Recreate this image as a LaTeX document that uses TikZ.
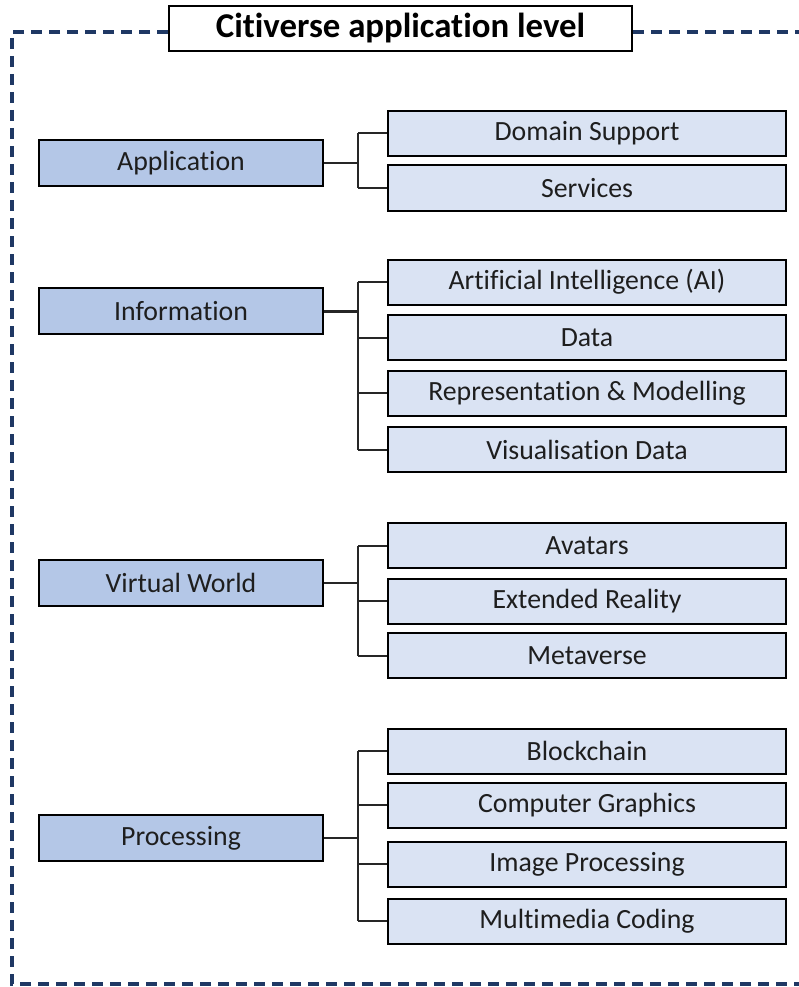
\documentclass[tikz,border=0pt]{standalone}
\usepackage{fontspec}
\setmainfont[Ligatures=NoCommon]{Carlito}
\usepackage{tikz}
\usetikzlibrary{calc}
\definecolor{framecol}{HTML}{1F3864}
\definecolor{leftfill}{HTML}{B4C7E7}
\definecolor{rightfill}{HTML}{DAE3F3}
\definecolor{txtcol}{HTML}{1E1E1E}

\begin{document}
\begin{tikzpicture}[x=1pt,y=-1pt,
  levelbox/.style={draw=black,line width=2pt,fill=leftfill,text=txtcol,minimum width=284pt,minimum height=46pt,inner sep=0pt,font=\fontsize{27.8}{30}\selectfont},
  subbox/.style={draw=black,line width=2pt,fill=rightfill,text=txtcol,minimum width=398pt,minimum height=45pt,inner sep=0pt,font=\fontsize{27.8}{30}\selectfont},
  link/.style={line width=2pt,draw=black!85},
  frame/.style={draw=framecol,line width=3.5pt,dash pattern=on 11pt off 7pt}]
\useasboundingbox (0,0) rectangle (799,987);

% title and dashed frame
\node[draw=black,line width=2pt,fill=white,minimum width=463pt,minimum height=45pt,inner sep=0pt,font=\fontsize{34.8}{38}\selectfont\bfseries] (title) at (400.5,28.5) {Citiverse application level};
\coordinate (fl) at (12,32);
\coordinate (fb) at (12,984);
\draw[frame] (title.west |- fl) -- (fl) -- (fb) -- (799,984);
\draw[frame] (title.east |- fl) -- (799,32);

% left column
\node[levelbox] (app) at (181,163.5) {Application};
\node[levelbox] (info) at (181,311) {Information};
\node[levelbox] (vw) at (181,582.5) {Virtual World};
\node[levelbox] (proc) at (181,838) {Processing};

% right column
\node[subbox] (dom) at (587,133.5) {Domain Support};
\node[subbox] (serv) at (587,188) {Services};

\node[subbox] (ai) at (587,282) {Artificial Intelligence (AI)};
\node[subbox] (data) at (587,337.5) {Data};
\node[subbox] (repr) at (587,393) {Representation \& Modelling};
\node[subbox] (vis) at (587,449.5) {Visualisation Data};

\node[subbox] (avat) at (587,545.5) {Avatars};
\node[subbox] (xr) at (587,601) {Extended Reality};
\node[subbox] (meta) at (587,655.5) {Metaverse};

\node[subbox] (block) at (587,751) {Blockchain};
\node[subbox] (cg) at (587,805) {Computer Graphics};
\node[subbox] (img) at (587,864) {Image Processing};
\node[subbox] (mmc) at (587,921) {Multimedia Coding};

% connectors
\draw[link] (app.east) -- ++(34,0) coordinate (t1);
\draw[link] (t1 |- dom.west) -- (t1 |- serv.west);
\foreach \n in {dom,serv} \draw[link] (t1 |- \n.west) -- (\n.west);

\draw[link,line width=3pt] (info.east) -- ++(34,0) coordinate (t2);
\draw[link] (t2 |- ai.west) -- (t2 |- vis.west);
\foreach \n in {ai,data,repr,vis} \draw[link] (t2 |- \n.west) -- (\n.west);

\draw[link] (vw.east) -- ++(34,0) coordinate (t3);
\draw[link] (t3 |- avat.west) -- (t3 |- meta.west);
\foreach \n in {avat,xr,meta} \draw[link] (t3 |- \n.west) -- (\n.west);

\draw[link] (proc.east) -- ++(34,0) coordinate (t4);
\draw[link] (t4 |- block.west) -- (t4 |- mmc.west);
\foreach \n in {block,cg,img,mmc} \draw[link] (t4 |- \n.west) -- (\n.west);
\end{tikzpicture}
\end{document}
